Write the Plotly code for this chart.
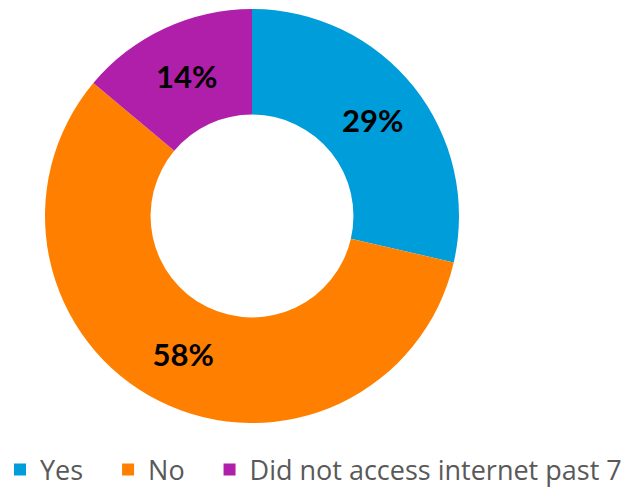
import plotly.graph_objects as go

categories = ["Yes", "No", "Did not access internet past 7"]
values = [28.6, 57.5, 13.9]
labels_text = ["29%", "58%", "14%"]
colors = ["#009DDB", "#FF8000", "#B01FAA"]

# trailing spaces widen the first two legend entries to match the reference spacing
legend_pad = ["\u2007\u2009", "\u2007\u2009", ""]
legend_labels = [c + p for c, p in zip(categories, legend_pad)]

W, H = 631, 490
cx, cy, r = 252, 216, 207   # pie centre / radius in page pixels

fig = go.Figure(go.Pie(
    labels=legend_labels,
    values=values,
    text=labels_text,
    textinfo="text",
    textposition="inside",
    insidetextorientation="horizontal",
    textfont=dict(family="Lato", size=31, color="black", weight="bold"),
    marker=dict(colors=colors, line=dict(width=0)),
    hole=0.49,
    sort=False,
    direction="clockwise",
    rotation=0,
    domain=dict(x=[(cx - r) / W, (cx + r) / W],
                y=[(H - cy - r) / H, (H - cy + r) / H]),
))

fig.update_layout(
    width=W, height=H,
    margin=dict(l=0, r=0, t=0, b=0, autoexpand=False),
    paper_bgcolor="white",
    showlegend=True,
    legend=dict(
        orientation="h", x=0, xanchor="left",
        y=-0.009, yanchor="bottom",
        font=dict(family="Open Sans", size=27, color="#595959"),
        itemwidth=30, tracegroupgap=0,
    ),
)

fig.write_html("out.html")
